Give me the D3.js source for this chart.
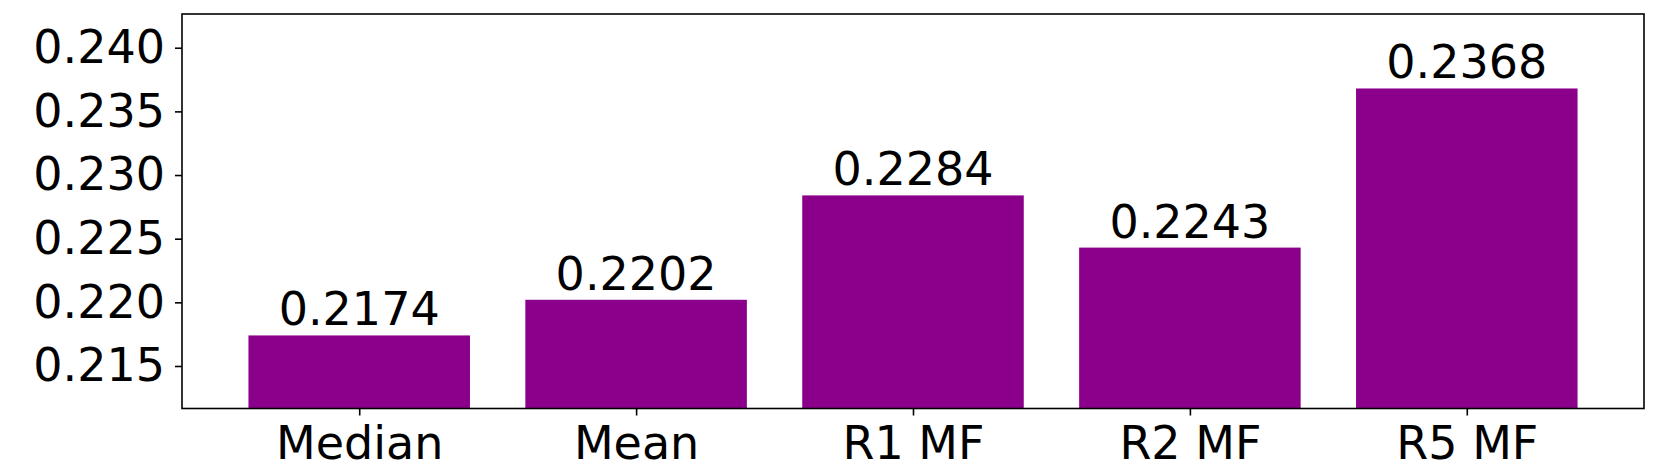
<!DOCTYPE html>
<html>
<head>
<meta charset="utf-8">
<script src="https://cdn.jsdelivr.net/npm/d3@7"></script>
<style>
  html, body { margin: 0; padding: 0; background: #fff; }
  svg { display: block; font-family: "DejaVu Sans", sans-serif; }
</style>
</head>
<body>
<div id="chart"></div>
<script>
// Chart data
const categories = ['Median', 'Mean', 'R1 MF', 'R2 MF', 'R5 MF'];
const values = [0.2174, 0.2202, 0.2284, 0.2243, 0.2368];
const yTicks = [0.215, 0.220, 0.225, 0.230, 0.235, 0.240];

const width = 1661;
const height = 465;
const margin = { top: 14, right: 17, bottom: 56.5, left: 182 };
const barColor = '#8b008b';
const fontSize = 46;

const svg = d3.select('#chart')
  .append('svg')
  .attr('width', width)
  .attr('height', height);

// x is linear over bar index, like matplotlib (bar width 0.8, 5% margins)
const x = d3.scaleLinear()
  .domain([-0.64, categories.length - 1 + 0.64])
  .range([margin.left, width - margin.right]);

const y = d3.scaleLinear()
  .domain([0.21166, 0.24265])
  .range([height - margin.bottom, margin.top]);

const barW = x(0.8) - x(0);

// Bars
svg.append('g')
  .selectAll('rect')
  .data(values)
  .enter()
  .append('rect')
  .attr('x', (d, i) => x(i - 0.4))
  .attr('y', d => y(d))
  .attr('width', barW)
  .attr('height', d => y.range()[0] - y(d))
  .attr('fill', barColor);

// Value labels
svg.append('g')
  .selectAll('text')
  .data(values)
  .enter()
  .append('text')
  .attr('x', (d, i) => x(i))
  .attr('y', d => y(d) - 10)
  .attr('text-anchor', 'middle')
  .attr('font-size', fontSize + 'px')
  .attr('fill', '#000')
  .text(d => d.toFixed(4));

// Y axis
const yAxis = svg.append('g')
  .attr('transform', `translate(${margin.left},0)`)
  .call(d3.axisLeft(y).tickValues(yTicks).tickFormat(d3.format('.3f')).tickSize(7).tickPadding(10));
yAxis.select('.domain').remove();
yAxis.selectAll('.tick line').attr('stroke', '#000').attr('stroke-width', 1.6);
yAxis.selectAll('.tick text')
  .attr('font-size', fontSize + 'px')
  .attr('font-family', '"DejaVu Sans", sans-serif')
  .attr('fill', '#000');

// X axis
const xAxis = svg.append('g')
  .attr('transform', `translate(0,${height - margin.bottom})`)
  .call(d3.axisBottom(x).tickValues(d3.range(categories.length))
    .tickFormat(i => categories[i]).tickSize(7).tickPadding(11));
xAxis.select('.domain').remove();
xAxis.selectAll('.tick line').attr('stroke', '#000').attr('stroke-width', 1.6);
xAxis.selectAll('.tick text')
  .attr('font-size', fontSize + 'px')
  .attr('font-family', '"DejaVu Sans", sans-serif')
  .attr('fill', '#000');

// Frame
svg.append('rect')
  .attr('x', margin.left)
  .attr('y', margin.top)
  .attr('width', width - margin.left - margin.right)
  .attr('height', height - margin.top - margin.bottom)
  .attr('fill', 'none')
  .attr('stroke', '#000')
  .attr('stroke-width', 1.6);
</script>
</body>
</html>
